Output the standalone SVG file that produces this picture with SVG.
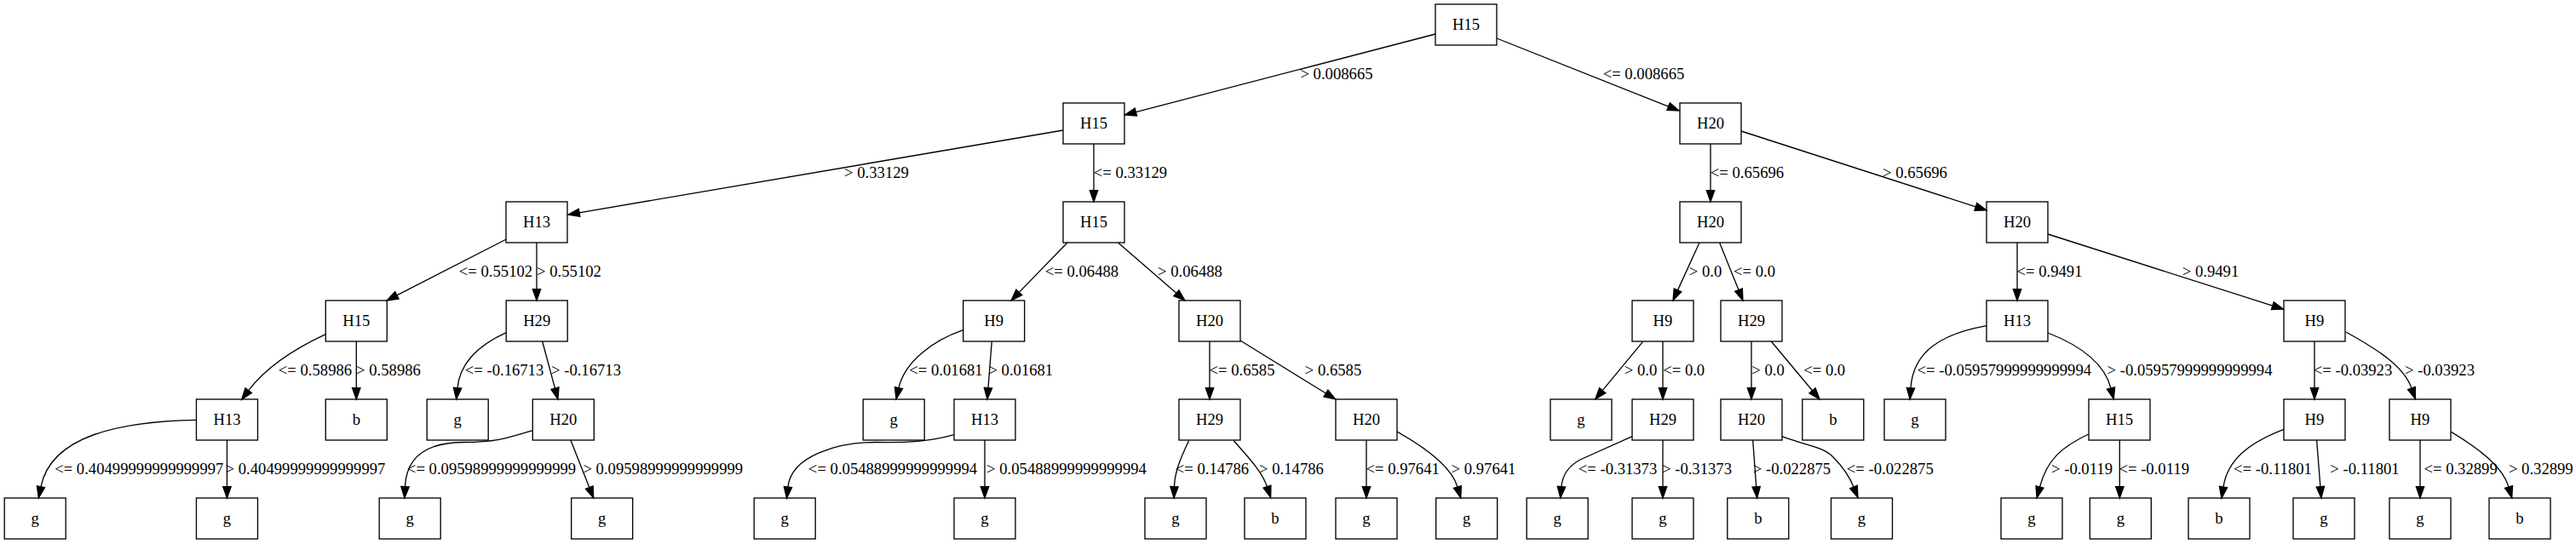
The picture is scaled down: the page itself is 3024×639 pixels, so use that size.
<svg xmlns="http://www.w3.org/2000/svg" width="3024" height="639" viewBox="0 0 3024 639">
<style>
.node rect{fill:none;stroke:#000;stroke-width:1.33}
text{font-family:"Liberation Serif","Times New Roman",serif;font-size:18.67px;text-anchor:middle;fill:#000}
.edges path{fill:none;stroke:#000;stroke-width:1.33;marker-end:url(#arr)}
</style>
<defs>
<marker id="arr" markerUnits="userSpaceOnUse" markerWidth="14" markerHeight="10" refX="0" refY="5" orient="auto" overflow="visible">
<path d="M0,0.33 L13.33,5 L0,9.67 Z" fill="#000" stroke="#000" stroke-width="1.33"/>
</marker>
</defs>
<rect x="0" y="0" width="3024" height="639" fill="#fff"/>
<g id="edges" class="edges">
<path d="M1685,40 L1333.4,131.6"/>
<path d="M1757,45 L1958.6,125.1"/>
<path d="M1248,153 L680.1,249.8"/>
<path d="M1284,169 L1284,223.7"/>
<path d="M2008,169 L2008,223.7"/>
<path d="M2044,154 L2319.3,242.9"/>
<path d="M594.4,281 L465.9,346.9"/>
<path d="M630,285 L630,339.7"/>
<path d="M1253,285 L1196.3,343.4"/>
<path d="M1312.5,285 L1380.9,344.3"/>
<path d="M1995,285 L1969.5,340.9"/>
<path d="M2018.6,285 L2041,340.6"/>
<path d="M2368,285 L2368,339.7"/>
<path d="M2404,275 L2667.8,359.2"/>
<path d="M382.3,392.7 C345,410 312,432 291.7,458.7"/>
<path d="M418.3,401 L418.3,455.7"/>
<path d="M594.3,390.7 C565,404 540,425 537,455.7"/>
<path d="M636.7,401 L651.5,456.1"/>
<path d="M1130.7,387.7 C1095,400 1062,425 1055,455.7"/>
<path d="M1164.3,401 L1160,455.7"/>
<path d="M1420,401 L1420,455.7"/>
<path d="M1456,400 L1556.4,462"/>
<path d="M1928.3,401.7 L1881.2,458.7"/>
<path d="M1952,401 L1952,455.7"/>
<path d="M2056,401 L2056,455.7"/>
<path d="M2079.3,401 L2127.5,458.8"/>
<path d="M2332,382.7 C2280,392 2246,412 2243,455.7"/>
<path d="M2404,391 C2440,405 2470,425 2478,456"/>
<path d="M2717,401 L2717,455.7"/>
<path d="M2754,390 C2790,410 2822,430 2831,456"/>
<path d="M230.7,493.3 C140,495 60,512 48,571.7"/>
<path d="M266.5,517 L266.5,571.7"/>
<path d="M625.3,505.7 C600,513 585,519.5 545,519.5 C500,519.5 477,537 475.5,571.7"/>
<path d="M670,517.3 L691.8,572.6"/>
<path d="M1120,510.7 C1090,519 1065,520 1030,519.5 C985,519 929,535 925,572"/>
<path d="M1156,517 L1156,571.7"/>
<path d="M1395.5,517.7 C1385,540 1379,555 1378.5,571.7"/>
<path d="M1448.4,517.7 C1468,540 1482,555 1487.5,571.7"/>
<path d="M1604,517 L1604,571.7"/>
<path d="M1640,507 C1672,525 1704,548 1711,572"/>
<path d="M1916,512.7 L1855,540 C1840,548 1834,560 1833,571.7"/>
<path d="M1952,517 L1952,571.7"/>
<path d="M2057.7,517.3 L2061.7,571.7"/>
<path d="M2092,512.7 C2115,522 2140,524 2152,537 C2165,550 2172,562 2176,572"/>
<path d="M2451.7,510 C2420,525 2403,540 2394.5,572"/>
<path d="M2488.3,517 L2488.3,571.7"/>
<path d="M2681,504.3 C2640,520 2615,540 2610,572"/>
<path d="M2719.6,517 L2723.9,571.7"/>
<path d="M2841,517 L2841,571.7"/>
<path d="M2877,507 C2910,527 2938,548 2945,572"/>
</g>
<g id="edge-labels">
<text x="1569" y="92.5">&gt; 0.008665</text>
<text x="1929.5" y="92.5">&lt;= 0.008665</text>
<text x="1029" y="208.5">&gt; 0.33129</text>
<text x="1327" y="208.5">&lt;= 0.33129</text>
<text x="2051" y="208.5">&lt;= 0.65696</text>
<text x="2248" y="208.5">&gt; 0.65696</text>
<text x="582" y="324.5">&lt;= 0.55102</text>
<text x="668" y="324.5">&gt; 0.55102</text>
<text x="1270" y="324.5">&lt;= 0.06488</text>
<text x="1397" y="324.5">&gt; 0.06488</text>
<text x="2002" y="324.5">&gt; 0.0</text>
<text x="2059.5" y="324.5">&lt;= 0.0</text>
<text x="2406" y="324.5">&lt;= 0.9491</text>
<text x="2595" y="324.5">&gt; 0.9491</text>
<text x="370" y="440.5">&lt;= 0.58986</text>
<text x="456" y="440.5">&gt; 0.58986</text>
<text x="592" y="440.5">&lt;= -0.16713</text>
<text x="688" y="440.5">&gt; -0.16713</text>
<text x="1110.5" y="440.5">&lt;= 0.01681</text>
<text x="1198.3" y="440.5">&gt; 0.01681</text>
<text x="1458" y="440.5">&lt;= 0.6585</text>
<text x="1565" y="440.5">&gt; 0.6585</text>
<text x="1926" y="440.5">&gt; 0.0</text>
<text x="1976.7" y="440.5">&lt;= 0.0</text>
<text x="2075.5" y="440.5">&gt; 0.0</text>
<text x="2141.7" y="440.5">&lt;= 0.0</text>
<text x="2352.8" y="440.5">&lt;= -0.05957999999999994</text>
<text x="2570.5" y="440.5">&gt; -0.05957999999999994</text>
<text x="2762" y="440.5">&lt;= -0.03923</text>
<text x="2864" y="440.5">&gt; -0.03923</text>
<text x="163.3" y="556.5">&lt;= 0.40499999999999997</text>
<text x="358.5" y="556.5">&gt; 0.40499999999999997</text>
<text x="577" y="556.5">&lt;= 0.09598999999999999</text>
<text x="778.3" y="556.5">&gt; 0.09598999999999999</text>
<text x="1048" y="556.5">&lt;= 0.05488999999999994</text>
<text x="1252" y="556.5">&gt; 0.05488999999999994</text>
<text x="1423" y="556.5">&lt;= 0.14786</text>
<text x="1516" y="556.5">&gt; 0.14786</text>
<text x="1646.7" y="556.5">&lt;= 0.97641</text>
<text x="1741.5" y="556.5">&gt; 0.97641</text>
<text x="1899" y="556.5">&lt;= -0.31373</text>
<text x="1992" y="556.5">&gt; -0.31373</text>
<text x="2103.5" y="556.5">&gt; -0.022875</text>
<text x="2218.8" y="556.5">&lt;= -0.022875</text>
<text x="2444" y="556.5">&gt; -0.0119</text>
<text x="2528.7" y="556.5">&lt;= -0.0119</text>
<text x="2668" y="556.5">&lt;= -0.11801</text>
<text x="2776" y="556.5">&gt; -0.11801</text>
<text x="2888.6" y="556.5">&lt;= 0.32899</text>
<text x="2982.8" y="556.5">&gt; 0.32899</text>
</g>
<g id="n0" class="node"><rect x="1685" y="5" width="72" height="48"/><text x="1721" y="34.5">H15</text></g>
<g id="n1" class="node"><rect x="1248" y="121" width="72" height="48"/><text x="1284" y="150.5">H15</text></g>
<g id="n2" class="node"><rect x="1972" y="121" width="72" height="48"/><text x="2008" y="150.5">H20</text></g>
<g id="n3" class="node"><rect x="594" y="237" width="72" height="48"/><text x="630" y="266.5">H13</text></g>
<g id="n4" class="node"><rect x="1248" y="237" width="72" height="48"/><text x="1284" y="266.5">H15</text></g>
<g id="n5" class="node"><rect x="1972" y="237" width="72" height="48"/><text x="2008" y="266.5">H20</text></g>
<g id="n6" class="node"><rect x="2332" y="237" width="72" height="48"/><text x="2368" y="266.5">H20</text></g>
<g id="n7" class="node"><rect x="382.3" y="353" width="72" height="48"/><text x="418.3" y="382.5">H15</text></g>
<g id="n8" class="node"><rect x="594.2" y="353" width="72" height="48"/><text x="630.2" y="382.5">H29</text></g>
<g id="n9" class="node"><rect x="1130.7" y="353" width="72" height="48"/><text x="1166.7" y="382.5">H9</text></g>
<g id="n10" class="node"><rect x="1384" y="353" width="72" height="48"/><text x="1420" y="382.5">H20</text></g>
<g id="n11" class="node"><rect x="1916" y="353" width="72" height="48"/><text x="1952" y="382.5">H9</text></g>
<g id="n12" class="node"><rect x="2020" y="353" width="72" height="48"/><text x="2056" y="382.5">H29</text></g>
<g id="n13" class="node"><rect x="2332" y="353" width="72" height="48"/><text x="2368" y="382.5">H13</text></g>
<g id="n14" class="node"><rect x="2681" y="353" width="72" height="48"/><text x="2717" y="382.5">H9</text></g>
<g id="n15" class="node"><rect x="230.5" y="469" width="72" height="48"/><text x="266.5" y="498.5">H13</text></g>
<g id="n16" class="node"><rect x="382.3" y="469" width="72" height="48"/><text x="418.3" y="498.5">b</text></g>
<g id="n17" class="node"><rect x="501.2" y="469" width="72" height="48"/><text x="537.2" y="498.5">g</text></g>
<g id="n18" class="node"><rect x="625.3" y="469" width="72" height="48"/><text x="661.3" y="498.5">H20</text></g>
<g id="n19" class="node"><rect x="1013.2" y="469" width="72" height="48"/><text x="1049.2" y="498.5">g</text></g>
<g id="n20" class="node"><rect x="1120" y="469" width="72" height="48"/><text x="1156" y="498.5">H13</text></g>
<g id="n21" class="node"><rect x="1384" y="469" width="72" height="48"/><text x="1420" y="498.5">H29</text></g>
<g id="n22" class="node"><rect x="1568" y="469" width="72" height="48"/><text x="1604" y="498.5">H20</text></g>
<g id="n23" class="node"><rect x="1820" y="469" width="72" height="48"/><text x="1856" y="498.5">g</text></g>
<g id="n24" class="node"><rect x="1916" y="469" width="72" height="48"/><text x="1952" y="498.5">H29</text></g>
<g id="n25" class="node"><rect x="2020" y="469" width="72" height="48"/><text x="2056" y="498.5">H20</text></g>
<g id="n26" class="node"><rect x="2115.8" y="469" width="72" height="48"/><text x="2151.8" y="498.5">b</text></g>
<g id="n27" class="node"><rect x="2212" y="469" width="72" height="48"/><text x="2248" y="498.5">g</text></g>
<g id="n28" class="node"><rect x="2452" y="469" width="72" height="48"/><text x="2488" y="498.5">H15</text></g>
<g id="n29" class="node"><rect x="2681" y="469" width="72" height="48"/><text x="2717" y="498.5">H9</text></g>
<g id="n30" class="node"><rect x="2805" y="469" width="72" height="48"/><text x="2841" y="498.5">H9</text></g>
<g id="n31" class="node"><rect x="5.2" y="585" width="72" height="48"/><text x="41.2" y="614.5">g</text></g>
<g id="n32" class="node"><rect x="230.5" y="585" width="72" height="48"/><text x="266.5" y="614.5">g</text></g>
<g id="n33" class="node"><rect x="445.2" y="585" width="72" height="48"/><text x="481.2" y="614.5">g</text></g>
<g id="n34" class="node"><rect x="670.7" y="585" width="72" height="48"/><text x="706.7" y="614.5">g</text></g>
<g id="n35" class="node"><rect x="885.2" y="585" width="72" height="48"/><text x="921.2" y="614.5">g</text></g>
<g id="n36" class="node"><rect x="1120" y="585" width="72" height="48"/><text x="1156" y="614.5">g</text></g>
<g id="n37" class="node"><rect x="1344" y="585" width="72" height="48"/><text x="1380" y="614.5">g</text></g>
<g id="n38" class="node"><rect x="1461" y="585" width="72" height="48"/><text x="1497" y="614.5">b</text></g>
<g id="n39" class="node"><rect x="1568" y="585" width="72" height="48"/><text x="1604" y="614.5">g</text></g>
<g id="n40" class="node"><rect x="1685.7" y="585" width="72" height="48"/><text x="1721.7" y="614.5">g</text></g>
<g id="n41" class="node"><rect x="1792.2" y="585" width="72" height="48"/><text x="1828.2" y="614.5">g</text></g>
<g id="n42" class="node"><rect x="1916" y="585" width="72" height="48"/><text x="1952" y="614.5">g</text></g>
<g id="n43" class="node"><rect x="2027.8" y="585" width="72" height="48"/><text x="2063.8" y="614.5">b</text></g>
<g id="n44" class="node"><rect x="2149.5" y="585" width="72" height="48"/><text x="2185.5" y="614.5">g</text></g>
<g id="n45" class="node"><rect x="2349" y="585" width="72" height="48"/><text x="2385" y="614.5">g</text></g>
<g id="n46" class="node"><rect x="2453.3" y="585" width="72" height="48"/><text x="2489.3" y="614.5">g</text></g>
<g id="n47" class="node"><rect x="2569" y="585" width="72" height="48"/><text x="2605" y="614.5">b</text></g>
<g id="n48" class="node"><rect x="2692" y="585" width="72" height="48"/><text x="2728" y="614.5">g</text></g>
<g id="n49" class="node"><rect x="2805" y="585" width="72" height="48"/><text x="2841" y="614.5">g</text></g>
<g id="n50" class="node"><rect x="2922" y="585" width="72" height="48"/><text x="2958" y="614.5">b</text></g>
</svg>
